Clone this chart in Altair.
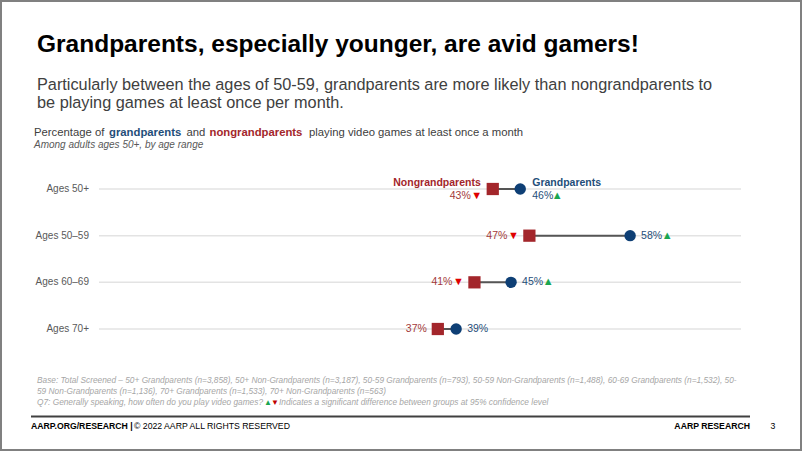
import altair as alt
import pandas as pd

# ---------------- data ----------------
ages = ["Ages 50+", "Ages 50–59", "Ages 60–69", "Ages 70+"]
grand = [46, 58, 45, 39]
nongrand = [43, 47, 41, 37]
significant = [True, True, True, False]

title = "Grandparents, especially younger, are avid gamers!"
subtitle1 = "Particularly between the ages of 50-59, grandparents are more likely than nongrandparents to"
subtitle2 = "be playing games at least once per month."
base1 = ("Base: Total Screened – 50+ Grandparents (n=3,858), 50+ Non-Grandparents (n=3,187), 50-59 Grandparents (n=793), "
         "50-59 Non-Grandparents (n=1,488), 60-69 Grandparents (n=1,532), 50-")
base2 = "59 Non-Grandparents (n=1,136), 70+ Grandparents (n=1,533), 70+ Non-Grandparents (n=563)"
q7a = "Q7: Generally speaking, how often do you play video games?"
q7b = "Indicates a significant difference between groups at 95% confidence level"

df = pd.DataFrame({
    "age": ages,
    "grand": grand,
    "nongrand": nongrand,
    "sig": significant,
})
df["glabel"] = [f"{v}%" for v in grand]
df["nlabel"] = [f"{v}%" for v in nongrand]
df["first"] = [a == ages[0] for a in ages]

SANS = "Liberation Sans, Arial, sans-serif"
RED = "#a3262b"
BLUE = "#0e3f75"
RED_TXT = "#a33a3a"
BLUE_TXT = "#1f4e79"

Y = alt.Y("age:N", sort=ages, scale=alt.Scale(type="point", range=[189, 329], padding=0), axis=None)
XS = alt.Scale(domain=[0, 70], range=[99, 740])

base = alt.Chart(df)
one = pd.DataFrame({"k": [0]})


def txt(s, x, y, size, color, weight="normal", style="normal", align="left", font=SANS):
    return alt.Chart(one).mark_text(
        text=s, fontSize=size, color=color, fontWeight=weight, fontStyle=style,
        align=align, baseline="middle", font=font
    ).encode(x=alt.value(x), y=alt.value(y))


border = alt.Chart(one).mark_rect(fillOpacity=0, stroke="#808080", strokeWidth=2).encode(
    x=alt.value(1), x2=alt.value(801), y=alt.value(1), y2=alt.value(450))

grid = base.mark_rule(color="#e3e3e3", strokeWidth=1.5).encode(
    x=alt.value(99), x2=alt.value(741), y=Y)

ylabels = base.mark_text(align="right", baseline="middle", fontSize=10, color="#595959", font=SANS).encode(
    x=alt.value(89), y=Y, text="age:N")

connector = base.mark_rule(color="#555555", strokeWidth=2).encode(
    x=alt.X("nongrand:Q", scale=XS, axis=None), x2="grand:Q", y=Y)

squares = base.mark_point(shape="square", filled=True, size=150, color=RED, opacity=1).encode(
    x=alt.X("nongrand:Q", scale=XS, axis=None), y=Y)

circles = base.mark_point(shape="circle", filled=True, size=130, color=BLUE, opacity=1).encode(
    x=alt.X("grand:Q", scale=XS, axis=None), y=Y)


def nlab(filt, dx, dy):
    return base.transform_filter(filt).mark_text(
        align="right", baseline="middle", fontSize=10.5, color=RED_TXT, font=SANS, dx=dx, dy=dy
    ).encode(x=alt.X("nongrand:Q", scale=XS, axis=None), y=Y, text="nlabel:N")


def ntri(filt, dx, dy):
    return base.transform_filter(filt).mark_text(
        align="center", baseline="middle", fontSize=11, color="#e00000", font=SANS, dx=dx, dy=dy, text="▼"
    ).encode(x=alt.X("nongrand:Q", scale=XS, axis=None), y=Y)


def glab(filt, dx, dy):
    return base.transform_filter(filt).mark_text(
        align="left", baseline="middle", fontSize=10.5, color=BLUE_TXT, font=SANS, dx=dx, dy=dy
    ).encode(x=alt.X("grand:Q", scale=XS, axis=None), y=Y, text="glabel:N")


def gtri(filt, dx, dy):
    return base.transform_filter(filt).mark_text(
        align="center", baseline="middle", fontSize=11, color="#1aa650", font=SANS, dx=dx, dy=dy, text="▲"
    ).encode(x=alt.X("grand:Q", scale=XS, axis=None), y=Y)


f_first = "datum.first"
f_mid = "!datum.first && datum.sig"
f_ns = "!datum.sig"

labels = [
    nlab(f_first, -22, 7), ntri(f_first, -16, 7),
    nlab(f_mid, -22, 0), ntri(f_mid, -16, 0),
    nlab(f_ns, -11, 0),
    glab(f_first, 12, 7), gtri(f_first, 37, 7),
    glab(f_mid, 11, 0), gtri(f_mid, 37, 0),
    glab(f_ns, 11, 0),
]

series_n = base.transform_filter(f_first).mark_text(
    align="right", baseline="middle", fontSize=10.5, fontWeight="bold", color=RED, font=SANS,
    dx=-12, dy=-6, text="Nongrandparents").encode(x=alt.X("nongrand:Q", scale=XS, axis=None), y=Y)
series_g = base.transform_filter(f_first).mark_text(
    align="left", baseline="middle", fontSize=10.5, fontWeight="bold", color=BLUE_TXT, font=SANS,
    dx=12, dy=-6, text="Grandparents").encode(x=alt.X("grand:Q", scale=XS, axis=None), y=Y)

texts = [
    txt(title, 37, 45, 24.5, "#000000", weight="bold"),
    txt(subtitle1, 37, 85, 16.3, "#404040"),
    txt(subtitle2, 37, 103, 16.3, "#404040"),
    txt("Percentage of", 34, 133, 11.3, "#404040"),
    txt("grandparents", 109, 133, 11.3, BLUE_TXT, weight="bold"),
    txt("and", 186.5, 133, 11.3, "#404040"),
    txt("nongrandparents", 209.5, 133, 11.3, RED, weight="bold"),
    txt("playing video games at least once a month", 309, 133, 11.3, "#404040"),
    txt("Among adults ages 50+, by age range", 34, 145, 10, "#595959", style="italic"),
    txt(base1, 37, 381, 8.3, "#a6a6a6", style="italic"),
    txt(base2, 37, 392, 8.3, "#a6a6a6", style="italic"),
    txt(q7a, 37, 403, 8.3, "#a6a6a6", style="italic"),
    txt("▲", 264, 403, 8, "#1aa650"),
    txt("▼", 271, 403, 8, "#c00000"),
    txt(q7b, 279, 403, 8.3, "#a6a6a6", style="italic"),
    txt("AARP.ORG/RESEARCH |", 31, 426, 8.7, "#000000", weight="bold"),
    txt("© 2022 AARP ALL RIGHTS RESERVED", 134, 426, 8.7, "#000000"),
    txt("AARP RESEARCH", 750, 426, 8.7, "#000000", weight="bold", align="right"),
    txt("3", 773, 426, 8.7, "#000000", align="center"),
]

footer_rule = alt.Chart(one).mark_rule(color="#404040", strokeWidth=2).encode(
    x=alt.value(31), x2=alt.value(750), y=alt.value(416.5))

chart = alt.layer(
    border, grid, ylabels, connector, squares, circles, *labels, series_n, series_g,
    *texts, footer_rule
).properties(
    width=802, height=451, padding=0,
    autosize=alt.AutoSizeParams(type="none"),
    background="white",
).configure_view(stroke="transparent")

chart.save("out.html", embed_options={"renderer": "svg", "actions": False})
